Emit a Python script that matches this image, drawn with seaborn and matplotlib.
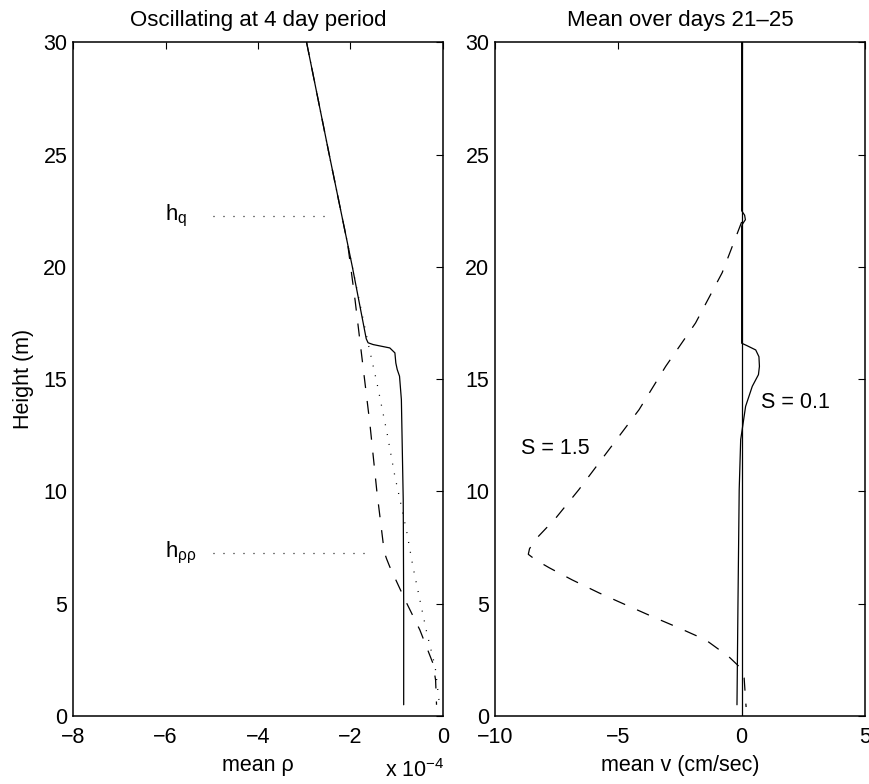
import matplotlib
matplotlib.use("Agg")
import matplotlib.pyplot as plt
import seaborn as sns
import numpy as np

# ---------------- data ----------------
# Left panel: mean rho (units of 1e-4) vs height (m)
rho_solid_y = [30, 25, 20, 16.8, 16.62, 16.54, 16.39, 16.17, 15.72, 15.43, 15.13, 14.09, 9.63, 5.0, 0.5]
rho_solid_x = [-2.95, -2.46, -1.96, -1.66, -1.62, -1.51, -1.15, -1.04, -1.02, -0.99, -0.94, -0.90, -0.86, -0.85, -0.85]

rho_dash_y = [30, 25, 21, 18.5, 16.6, 13.0, 10.0, 7.3, 7.0, 6.64, 5.17, 3.83, 2.36, 1.6, 0.5]
rho_dash_x = [-2.95, -2.46, -2.06, -1.90, -1.79, -1.58, -1.43, -1.27, -1.22, -1.15, -0.82, -0.50, -0.22, -0.16, -0.14]

rho_dot_y = [30, 25, 20, 16.6, 14.85, 12.6, 10.67, 9.63, 8.16, 6.65, 5.17, 3.7, 2.2, 0.4]
rho_dot_x = [-2.95, -2.46, -1.96, -1.62, -1.43, -1.21, -1.04, -0.93, -0.78, -0.65, -0.50, -0.35, -0.17, -0.07]

hq_x = [-4.97, -2.55]
hq_y = [22.27, 22.27]
hrr_x = [-4.97, -1.69]
hrr_y = [7.25, 7.25]

# Right panel: mean v (cm/sec) vs height (m)
v01_y = [30, 22.5, 22.3, 22.1, 21.9, 21.8, 16.6, 16.5, 16.3, 16.0, 15.57, 15.2, 14.68, 13.79, 12.3, 10.08, 5.0, 0.5]
v01_x = [0.0, 0.0, 0.12, 0.15, 0.03, 0.0, 0.0, 0.2, 0.57, 0.70, 0.72, 0.68, 0.43, 0.16, -0.04, -0.10, -0.15, -0.19]

v15_y = [22.0, 19.74, 17.5, 15.57, 13.64, 11.86, 10.08, 8.81, 7.93, 7.45, 7.2, 6.95, 6.6, 6.06, 5.48, 4.95, 4.43, 3.92, 3.39, 2.64, 2.2, 1.7, 0.7, 0.4]
v15_x = [0.0, -0.79, -1.87, -3.08, -4.16, -5.38, -6.60, -7.54, -8.30, -8.60, -8.65, -8.35, -7.80, -6.87, -5.78, -4.70, -3.63, -2.54, -1.46, -0.52, -0.10, 0.10, 0.16, 0.18]

zero_x = [0, 0]
zero_y = [0, 30]

rho_xticks = [-8, -6, -4, -2, 0]
v_xticks = [-10, -5, 0, 5]
yticks = [0, 5, 10, 15, 20, 25, 30]

# ---------------- style ----------------
sns.set_style("white")
plt.rcParams.update({
    "font.family": ["Liberation Sans", "DejaVu Sans"],
    "mathtext.fontset": "custom",
    "mathtext.rm": "Liberation Sans",
    "mathtext.it": "Liberation Sans",
    "xtick.direction": "in",
    "ytick.direction": "in",
    "xtick.top": True,
    "ytick.right": True,
    "xtick.major.size": 5,
    "ytick.major.size": 5,
    "xtick.color": "black",
    "ytick.color": "black",
    "axes.edgecolor": "black",
    "axes.linewidth": 1.1,
    "text.color": "black",
    "axes.labelcolor": "black",
})

FS = 15.5
fig = plt.figure(figsize=(8.7, 7.84), dpi=100)
ax1 = fig.add_axes([73 / 870, 1 - 716 / 784, 370 / 870, 673.7 / 784])
ax2 = fig.add_axes([495 / 870, 1 - 716 / 784, 370 / 870, 673.7 / 784])

lw = 0.9
kw = dict(sort=False, estimator=None, color="black", lw=lw)
DASH = (0, (10.4, 10.4))
DOT = (0, (0.8, 7.2))

# left panel
sns.lineplot(x=rho_solid_x, y=rho_solid_y, ax=ax1, linestyle="-", **kw)
sns.lineplot(x=rho_dash_x, y=rho_dash_y, ax=ax1, linestyle=DASH, **kw)
sns.lineplot(x=rho_dot_x, y=rho_dot_y, ax=ax1, linestyle=DOT, **kw)
sns.lineplot(x=hq_x, y=hq_y, ax=ax1, linestyle=DOT, **kw)
sns.lineplot(x=hrr_x, y=hrr_y, ax=ax1, linestyle=DOT, **kw)

ax1.set_xlim(-8, 0)
ax1.set_ylim(0, 30)
ax1.set_xticks(rho_xticks)
ax1.set_yticks(yticks)
ax1.set_xticklabels([str(t) if t >= 0 else "\u2212" + str(-t) for t in rho_xticks])
ax1.set_title("Oscillating at 4 day period", fontsize=16, pad=12)
ax1.set_xlabel("mean \u03c1", fontsize=FS, labelpad=5)
ax1.set_ylabel("Height (m)", fontsize=FS, labelpad=7)
ax1.text(-6.02, 22.27, r"$\mathregular{h_q}$", fontsize=16, ha="left", va="center")
ax1.text(-6.02, 7.25, r"$\mathregular{h_{\rho\rho}}$", fontsize=16, ha="left", va="center")
fig.text(445 / 870, 1 - 777 / 784, r"x 10$^{-4}$", fontsize=FS, ha="right", va="baseline")

# right panel
sns.lineplot(x=zero_x, y=zero_y, ax=ax2, linestyle="-", **kw)
sns.lineplot(x=v01_x, y=v01_y, ax=ax2, linestyle="-", **kw)
sns.lineplot(x=v15_x, y=v15_y, ax=ax2, linestyle=DASH, **kw)

ax2.set_xlim(-10, 5)
ax2.set_ylim(0, 30)
ax2.set_xticks(v_xticks)
ax2.set_yticks(yticks)
ax2.set_xticklabels([str(t) if t >= 0 else "\u2212" + str(-t) for t in v_xticks])
ax2.set_title("Mean over days 21\u201325", fontsize=16, pad=12)
ax2.set_xlabel("mean v (cm/sec)", fontsize=FS, labelpad=5)
ax2.set_ylabel("")
ax2.text(-7.54, 11.93, "S = 1.5", fontsize=FS, ha="center", va="center")
ax2.text(2.19, 13.95, "S = 0.1", fontsize=FS, ha="center", va="center")

for ax in (ax1, ax2):
    ax.tick_params(labelsize=FS, width=0.8)
    ax.tick_params(axis="x", pad=8)
    ax.tick_params(axis="y", pad=4)
    for s in ax.spines.values():
        s.set_visible(True)
        s.set_color("black")

fig.savefig("out.png", dpi=100, facecolor="white")
